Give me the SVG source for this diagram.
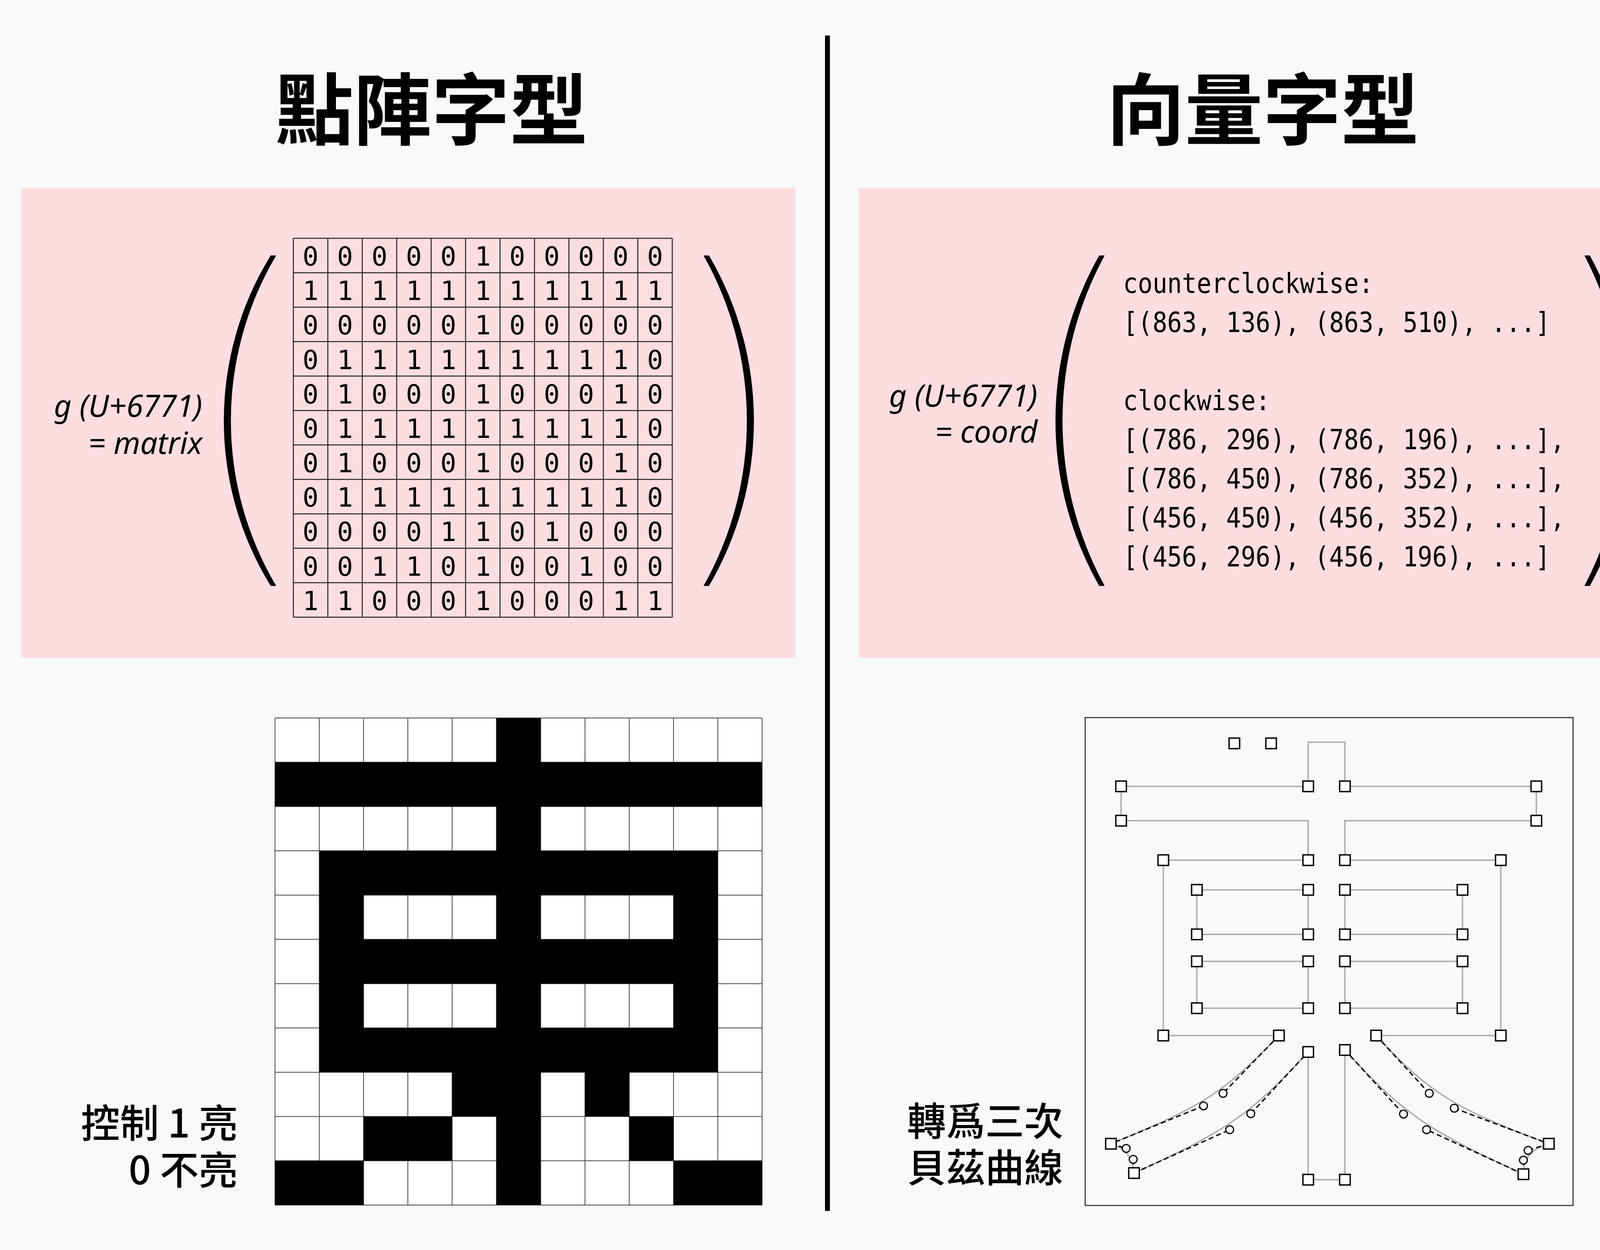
<svg xmlns="http://www.w3.org/2000/svg" xmlns:xlink="http://www.w3.org/1999/xlink" width="4267" height="3200" viewBox="0 0 4267 3200">
<style>
.cjk{font-family:"Noto Sans CJK TC","Noto Sans CJK SC","Noto Sans CJK JP",sans-serif;fill:#000}
.mono{font-family:"DejaVu Sans Mono","Liberation Mono",monospace;fill:#000}
.it{font-family:"Noto Sans","DejaVu Sans",sans-serif;font-style:italic;fill:#000}
.pink{fill:#fcdde0}
.outline{fill:none;stroke:#aaa;stroke-width:3.5}
.ctl{fill:none;stroke:#000;stroke-width:3.5;stroke-dasharray:13 8}
.pt{fill:#fff;stroke:#000;stroke-width:3.5}
.cp{fill:#fff;stroke:#000;stroke-width:3}
.grid{fill:none;stroke:#444;stroke-width:2}
</style>
<defs>
<rect id="sq" x="-13.5" y="-13.5" width="27" height="27"/>
</defs>
<rect width="4267" height="3200" fill="#f8f9f9"/>

<g id="divider"><rect x="2112" y="91" width="12.5" height="3009" fill="#000"/></g>

<g id="title-left"><text class="cjk" x="1105" y="355" font-size="200" font-weight="700" text-anchor="middle">點陣字型</text></g>
<g id="title-right"><text class="cjk" x="3233" y="355" font-size="200" font-weight="700" text-anchor="middle">向量字型</text></g>

<g id="panel-matrix">
<rect class="pink" x="55" y="481" width="1981" height="1203"/>
<text class="it" font-size="78" x="518" y="1067" text-anchor="end">g (U+6771)</text>
<text class="it" font-size="78" x="518" y="1162" text-anchor="end">= matrix</text>
<path d="M693,654 A805.5,805.5 0 0 0 693,1500 L707,1500 A829.2,829.2 0 0 1 707,654 Z" fill="#000"/>
<path d="M1801,654 L1815,654 A835.5,835.5 0 0 1 1815,1500 L1801,1500 A861.5,861.5 0 0 0 1801,654 Z" fill="#000"/>
<g transform="translate(751,610) scale(88.18)">
<path d="M0,0V11M1,0V11M2,0V11M3,0V11M4,0V11M5,0V11M6,0V11M7,0V11M8,0V11M9,0V11M10,0V11M11,0V11M0,0H11M0,1H11M0,2H11M0,3H11M0,4H11M0,5H11M0,6H11M0,7H11M0,8H11M0,9H11M0,10H11M0,11H11" fill="none" stroke="#222" stroke-width="2.5" vector-effect="non-scaling-stroke"/>
</g>
<g class="mono" font-size="68" text-anchor="middle">
<text x="795.1 883.3 971.5 1059.6 1147.8 1236 1324.2 1412.4 1500.5 1588.7 1676.9" y="680">00000100000</text>
<text x="795.1 883.3 971.5 1059.6 1147.8 1236 1324.2 1412.4 1500.5 1588.7 1676.9" y="768.2">11111111111</text>
<text x="795.1 883.3 971.5 1059.6 1147.8 1236 1324.2 1412.4 1500.5 1588.7 1676.9" y="856.4">00000100000</text>
<text x="795.1 883.3 971.5 1059.6 1147.8 1236 1324.2 1412.4 1500.5 1588.7 1676.9" y="944.5">01111111110</text>
<text x="795.1 883.3 971.5 1059.6 1147.8 1236 1324.2 1412.4 1500.5 1588.7 1676.9" y="1032.7">01000100010</text>
<text x="795.1 883.3 971.5 1059.6 1147.8 1236 1324.2 1412.4 1500.5 1588.7 1676.9" y="1120.9">01111111110</text>
<text x="795.1 883.3 971.5 1059.6 1147.8 1236 1324.2 1412.4 1500.5 1588.7 1676.9" y="1209.1">01000100010</text>
<text x="795.1 883.3 971.5 1059.6 1147.8 1236 1324.2 1412.4 1500.5 1588.7 1676.9" y="1297.3">01111111110</text>
<text x="795.1 883.3 971.5 1059.6 1147.8 1236 1324.2 1412.4 1500.5 1588.7 1676.9" y="1385.4">00001101000</text>
<text x="795.1 883.3 971.5 1059.6 1147.8 1236 1324.2 1412.4 1500.5 1588.7 1676.9" y="1473.6">00110100100</text>
<text x="795.1 883.3 971.5 1059.6 1147.8 1236 1324.2 1412.4 1500.5 1588.7 1676.9" y="1561.8">11000100011</text>
</g>
</g>

<g id="panel-coord">
<rect class="pink" x="2199" y="481" width="2011" height="1203"/>
<text class="it" font-size="78" x="2656" y="1041" text-anchor="end">g (U+6771)</text>
<text class="it" font-size="78" x="2656" y="1133" text-anchor="end">= coord</text>
<path d="M2814,654 A854.8,854.8 0 0 0 2814,1500 L2828,1500 A882.4,882.4 0 0 1 2828,654 Z" fill="#000"/>
<path d="M4056,654 L4070,654 A882.4,882.4 0 0 1 4070,1500 L4056,1500 A912.2,912.2 0 0 0 4056,654 Z" fill="#000"/>
<g class="mono" font-size="72" transform="translate(2875 0) scale(0.87 1)">
<text x="0" y="750">counterclockwise:</text>
<text x="0" y="850">[(863, 136), (863, 510), ...]</text>
<text x="0" y="1050">clockwise:</text>
<text x="0" y="1150">[(786, 296), (786, 196), ...],</text>
<text x="0" y="1250">[(786, 450), (786, 352), ...],</text>
<text x="0" y="1350">[(456, 450), (456, 352), ...],</text>
<text x="0" y="1450">[(456, 296), (456, 196), ...]</text>
</g>
</g>

<g id="bitmap">
<rect x="704" y="1838" width="1247" height="1247" fill="#fff"/>
<g transform="translate(704,1838) scale(113.36)">
<path d="M0,0V11M1,0V11M2,0V11M3,0V11M4,0V11M5,0V11M6,0V11M7,0V11M8,0V11M9,0V11M10,0V11M11,0V11M0,0H11M0,1H11M0,2H11M0,3H11M0,4H11M0,5H11M0,6H11M0,7H11M0,8H11M0,9H11M0,10H11M0,11H11" class="grid" vector-effect="non-scaling-stroke"/>
<path fill="#000" d="M5,0h1v1h-1zM0,1h11v1h-11zM5,2h1v1h-1zM1,3h9v1h-9zM1,4h1v1h-1zM5,4h1v1h-1zM9,4h1v1h-1zM1,5h9v1h-9zM1,6h1v1h-1zM5,6h1v1h-1zM9,6h1v1h-1zM1,7h9v1h-9zM4,8h2v1h-2zM7,8h1v1h-1zM2,9h2v1h-2zM5,9h1v1h-1zM8,9h1v1h-1zM0,10h2v1h-2zM5,10h1v1h-1zM9,10h2v1h-2z"/>
</g>
<text class="cjk" font-size="100" font-weight="500" x="609" y="2912" text-anchor="end">控制 1 亮</text>
<text class="cjk" font-size="100" font-weight="500" x="609" y="3032" text-anchor="end">0 不亮</text>
</g>

<g id="vector">
<rect x="2778" y="1837" width="1249" height="1249" fill="none" stroke="#222" stroke-width="2.5"/>
<g id="connectors">
<path class="outline" d="M2870,2013 L3349,2013 L3349,1900 L3443,1900 L3443,2013 L3933,2013 L3933,2101 L3443,2101 L3443,2202 L3842,2202 L3842,2651 L3523,2651 C3659,2799 3723,2837 3965,2928 C3912,2945 3900,2970 3900,3006 C3652,2892 3593,2852 3443,2688 L3443,3020 L3349,3020 L3349,2693 C3202,2851 3148,2892 2903,3003 C2901,2968 2883,2940 2844,2928 C3081,2831 3131,2799 3274,2651 L2978,2651 L2978,2202 L3349,2202 L3349,2101 L2870,2101 Z"/>
<path class="outline" d="M3064,2278H3349V2392H3064ZM3064,2461H3349V2581H3064ZM3443,2278H3744V2392H3443ZM3443,2461H3744V2581H3443Z"/>
<path class="ctl" d="M3274,2651L3131,2799M3081,2831L2844,2928M2844,2928L2883,2940M2901,2968L2903,3003M2903,3003L3148,2892M3202,2851L3349,2693M3523,2651L3659,2799M3723,2837L3965,2928M3965,2928L3912,2945M3900,2970L3900,3006M3900,3006L3652,2892M3593,2852L3443,2688"/>
</g>
<g id="points">
<use xlink:href="#sq" class="pt" x="3160" y="1903"/>
<use xlink:href="#sq" class="pt" x="3254" y="1903"/>
<use xlink:href="#sq" class="pt" x="2870" y="2013"/>
<use xlink:href="#sq" class="pt" x="3349" y="2013"/>
<use xlink:href="#sq" class="pt" x="3443" y="2013"/>
<use xlink:href="#sq" class="pt" x="3933" y="2013"/>
<use xlink:href="#sq" class="pt" x="2870" y="2101"/>
<use xlink:href="#sq" class="pt" x="3933" y="2101"/>
<use xlink:href="#sq" class="pt" x="2978" y="2202"/>
<use xlink:href="#sq" class="pt" x="3349" y="2202"/>
<use xlink:href="#sq" class="pt" x="3443" y="2202"/>
<use xlink:href="#sq" class="pt" x="3842" y="2202"/>
<use xlink:href="#sq" class="pt" x="3064" y="2278"/>
<use xlink:href="#sq" class="pt" x="3349" y="2278"/>
<use xlink:href="#sq" class="pt" x="3443" y="2278"/>
<use xlink:href="#sq" class="pt" x="3744" y="2278"/>
<use xlink:href="#sq" class="pt" x="3064" y="2392"/>
<use xlink:href="#sq" class="pt" x="3349" y="2392"/>
<use xlink:href="#sq" class="pt" x="3443" y="2392"/>
<use xlink:href="#sq" class="pt" x="3744" y="2392"/>
<use xlink:href="#sq" class="pt" x="3064" y="2461"/>
<use xlink:href="#sq" class="pt" x="3349" y="2461"/>
<use xlink:href="#sq" class="pt" x="3443" y="2461"/>
<use xlink:href="#sq" class="pt" x="3744" y="2461"/>
<use xlink:href="#sq" class="pt" x="3064" y="2581"/>
<use xlink:href="#sq" class="pt" x="3349" y="2581"/>
<use xlink:href="#sq" class="pt" x="3443" y="2581"/>
<use xlink:href="#sq" class="pt" x="3744" y="2581"/>
<use xlink:href="#sq" class="pt" x="2978" y="2651"/>
<use xlink:href="#sq" class="pt" x="3274" y="2651"/>
<use xlink:href="#sq" class="pt" x="3523" y="2651"/>
<use xlink:href="#sq" class="pt" x="3842" y="2651"/>
<use xlink:href="#sq" class="pt" x="3349" y="2693"/>
<use xlink:href="#sq" class="pt" x="3443" y="2688"/>
<use xlink:href="#sq" class="pt" x="2844" y="2928"/>
<use xlink:href="#sq" class="pt" x="2903" y="3003"/>
<use xlink:href="#sq" class="pt" x="3965" y="2928"/>
<use xlink:href="#sq" class="pt" x="3900" y="3006"/>
<use xlink:href="#sq" class="pt" x="3349" y="3020"/>
<use xlink:href="#sq" class="pt" x="3443" y="3020"/>
<circle class="cp" cx="3131" cy="2799" r="10"/>
<circle class="cp" cx="3081" cy="2831" r="10"/>
<circle class="cp" cx="2883" cy="2940" r="10"/>
<circle class="cp" cx="2901" cy="2968" r="10"/>
<circle class="cp" cx="3148" cy="2892" r="10"/>
<circle class="cp" cx="3202" cy="2851" r="10"/>
<circle class="cp" cx="3659" cy="2799" r="10"/>
<circle class="cp" cx="3723" cy="2837" r="10"/>
<circle class="cp" cx="3912" cy="2945" r="10"/>
<circle class="cp" cx="3900" cy="2970" r="10"/>
<circle class="cp" cx="3652" cy="2892" r="10"/>
<circle class="cp" cx="3593" cy="2852" r="10"/>
</g>
<text class="cjk" font-size="100" font-weight="500" x="2722" y="2907" text-anchor="end">轉爲三次</text>
<text class="cjk" font-size="100" font-weight="500" x="2722" y="3026" text-anchor="end">貝茲曲線</text>
</g>
</svg>
